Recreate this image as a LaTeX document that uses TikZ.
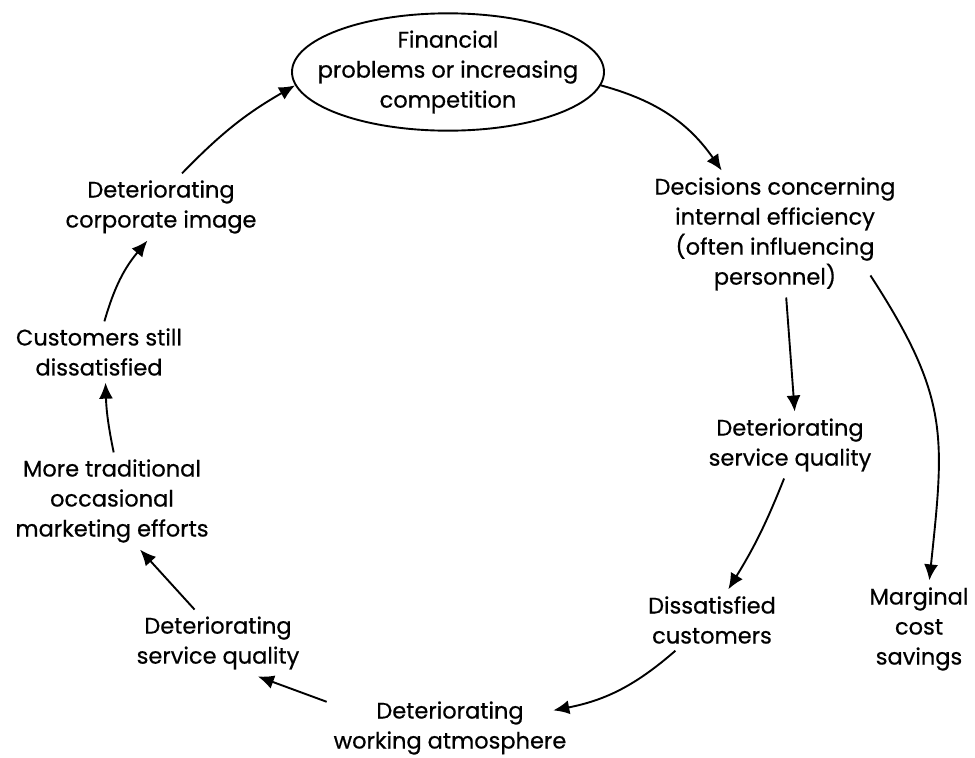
\documentclass[tikz,border=0pt]{standalone}
\usepackage{fontspec}
\setmainfont{Poppins}[FakeBold=0.6]
\usetikzlibrary{shapes.geometric, arrows.meta, positioning, calc}

\tikzset{
  steptext/.style={align=center, font=\fontsize{22.5}{30}\selectfont,
                   inner sep=2pt, outer sep=5pt},
  cyclearrow/.style={-{Latex[length=16pt, width=14pt]}, line width=1.9pt},
}

\begin{document}
\begin{tikzpicture}[x=1pt, y=-1pt]
\useasboundingbox (0,0) rectangle (975,758);

% the starting point of the circle
\node[draw, ellipse, line width=1.9pt, minimum width=312pt, minimum height=117pt,
      inner xsep=-20pt, inner ysep=0pt, align=center,
      font=\fontsize{22.5}{30}\selectfont] (fin) at (448,72)
  {Financial\\problems or increasing\\competition};

% right half, going down
\node[steptext] (dec)  at (775,234) {Decisions concerning\\internal efficiency\\(often influencing\\personnel)};
\node[steptext] (sqr)  at (790,445) {Deteriorating\\service quality};
\node[steptext] (marg) at (919,629) {Marginal\\cost\\savings};
\node[steptext] (dis)  at (712,620) {Dissatisfied\\customers};
\node[steptext] (work) at (450,728) {Deteriorating\\working atmosphere};

% left half, going up
\node[steptext] (sql)  at (218,643) {Deteriorating\\service quality};
\node[steptext] (mkt)  at (112,501) {More traditional\\occasional\\marketing efforts};
\node[steptext] (cust) at (99,352)  {Customers still\\dissatisfied};
\node[steptext] (corp) at (161,207) {Deteriorating\\corporate image};

% arrows
\draw[cyclearrow] (fin.355) to[bend left=20] (dec.130);
\draw[cyclearrow] (dec.-80) -- (sqr.82);
\draw[cyclearrow] ($(dec.south east)+(-32,-22)$) to[out=-57, in=84, looseness=1.2] (marg.78);
\draw[cyclearrow] (sqr.-100) to[bend left=5] (dis.62);
\draw[cyclearrow] (dis.-140) to[bend left=15] ($(work.north east)+(-20,16)$);
\draw[cyclearrow] (work.168) -- (sql.-40);
\draw[cyclearrow] (sql.125) -- (mkt.-60);
\draw[cyclearrow] (mkt.88) to[bend left=5] (cust.-78);
\draw[cyclearrow] (cust.80) to[bend left=12] (corp.-112);
\draw[cyclearrow] (corp.58) to[bend left=8] (fin.185);
\end{tikzpicture}
\end{document}
